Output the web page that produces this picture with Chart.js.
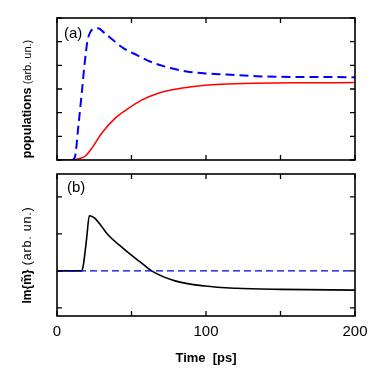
<!DOCTYPE html>
<html>
<head>
<meta charset="utf-8">
<script src="https://cdn.jsdelivr.net/npm/chart.js@4.4.1/dist/chart.umd.min.js"></script>
<style>
  body { margin: 0; background: #fff; }
  #wrap { position: relative; width: 390px; height: 382px; }
  canvas { position: absolute; left: 0; }
  #panelA { top: 0; }
  #panelB { top: 170px; }
</style>
</head>
<body>
<div id="wrap">
  <canvas id="panelA" width="390" height="170"></canvas>
  <canvas id="panelB" width="390" height="212"></canvas>
</div>
<script>
// panel (a): populations
const timeBlue = [0, 10, 12.1, 14.3, 16.6, 18.8, 20.5, 22.5, 25, 27.5, 32, 38, 44, 54, 64, 76, 87, 99, 114, 134, 160, 200];
const popBlue  = [0, 0, 0.14, 1.41, 2.82, 4.22, 5.05, 5.42, 5.55, 5.57, 5.36, 5.05, 4.75, 4.42, 4.12, 3.89, 3.74, 3.66, 3.61, 3.54, 3.51, 3.5];
const timeRed  = [0, 10, 12.1, 15, 18.8, 23.3, 30, 38.9, 47.9, 56.8, 68, 79.2, 90.4, 99.3, 110, 134, 160, 200];
const popRed   = [0, 0, 0.02, 0.06, 0.16, 0.49, 1.13, 1.76, 2.18, 2.53, 2.82, 2.99, 3.1, 3.16, 3.2, 3.24, 3.26, 3.27];

// panel (b): Im{m}
const timeIm = [0, 16.6, 17.7, 19.9, 21.7, 23.5, 25.5, 30, 34.4, 45.6, 56.8, 63.5, 79.2, 99.3, 120, 150, 200];
const valIm  = [0, 0, 0.16, 0.88, 1.49, 1.47, 1.42, 1.2, 0.97, 0.57, 0.21, 0, -0.27, -0.41, -0.47, -0.5, -0.52];
const timeZero = [0, 200];
const valZero  = [0, 0];

const xTicks = [0, 50, 100, 150, 200];
const xTickLabels = [0, 100, 200];
const yTicksA = [0, 1, 2, 3, 4, 5, 6];
const yTicksB = [-1, 0, 1, 2];

const FONT = '"Liberation Sans", Arial, sans-serif';

function pts(xs, ys) {
  return xs.map((x, i) => ({ x: x, y: ys[i] }));
}

// frame + inward ticks on all four sides
function framePlugin(yTicks, extra) {
  return {
    id: 'frame',
    afterDraw(chart) {
      const ctx = chart.ctx;
      const a = chart.chartArea;
      const xs = chart.scales.x, ys = chart.scales.y;
      ctx.save();
      ctx.strokeStyle = '#000';
      ctx.lineWidth = 1.6;
      ctx.strokeRect(a.left, a.top, a.right - a.left, a.bottom - a.top);
      ctx.lineWidth = 1.3;
      ctx.beginPath();
      xTicks.forEach(t => {
        const px = xs.getPixelForValue(t);
        ctx.moveTo(px, a.bottom); ctx.lineTo(px, a.bottom - 5);
        ctx.moveTo(px, a.top); ctx.lineTo(px, a.top + 5);
      });
      yTicks.forEach(t => {
        const py = ys.getPixelForValue(t);
        ctx.moveTo(a.left, py); ctx.lineTo(a.left + 5, py);
        ctx.moveTo(a.right, py); ctx.lineTo(a.right - 5, py);
      });
      ctx.stroke();
      ctx.restore();
      extra(chart, ctx, a, xs, ys);
    }
  };
}

// rotated y title: bold part + normal part
function yTitle(ctx, cx, cy, boldTxt, boldFont, normTxt, normFont, spacing) {
  ctx.save();
  ctx.translate(cx, cy);
  ctx.rotate(-Math.PI / 2);
  ctx.fillStyle = '#000';
  ctx.textBaseline = 'middle';
  ctx.font = boldFont;
  ctx.letterSpacing = '0px';
  const w1 = ctx.measureText(boldTxt).width;
  ctx.font = normFont;
  ctx.letterSpacing = spacing;
  const w2 = ctx.measureText(normTxt).width;
  const x = -(w1 + w2) / 2;
  ctx.font = boldFont;
  ctx.letterSpacing = '0px';
  ctx.fillText(boldTxt, x, 0);
  ctx.font = normFont;
  ctx.letterSpacing = spacing;
  ctx.fillText(normTxt, x + w1, 0);
  ctx.restore();
}

const baseOpts = (pad, ymin, ymax) => ({
  responsive: false,
  animation: false,
  layout: { padding: pad },
  plugins: { legend: { display: false }, tooltip: { enabled: false } },
  elements: { point: { radius: 0 } },
  scales: {
    x: { type: 'linear', min: 0, max: 200, display: false },
    y: { type: 'linear', min: ymin, max: ymax, display: false }
  }
});

new Chart(document.getElementById('panelA'), {
  type: 'line',
  data: {
    datasets: [
      { data: pts(timeBlue, popBlue), borderColor: '#0000ff', borderWidth: 2, borderDash: [9, 5], cubicInterpolationMode: 'monotone' },
      { data: pts(timeRed, popRed), borderColor: '#ff0000', borderWidth: 1.5, cubicInterpolationMode: 'monotone' }
    ]
  },
  options: baseOpts({ left: 57, right: 35, top: 18, bottom: 10 }, 0, 6),
  plugins: [framePlugin(yTicksA, (chart, ctx, a) => {
    ctx.save();
    ctx.fillStyle = '#000';
    ctx.font = '15px ' + FONT;
    ctx.textBaseline = 'middle';
    ctx.fillText('(a)', 64, 34);
    ctx.restore();
    yTitle(ctx, 28, 99, 'populations', 'bold 12.5px ' + FONT, ' (arb. un.)', '11px ' + FONT, '0px');
  })]
});

new Chart(document.getElementById('panelB'), {
  type: 'line',
  data: {
    datasets: [
      { data: pts(timeZero, valZero), borderColor: '#0000e0', borderWidth: 1.4, borderDash: [7, 4] },
      { data: pts(timeIm, valIm), borderColor: '#000', borderWidth: 1.6, cubicInterpolationMode: 'monotone' }
    ]
  },
  options: baseOpts({ left: 57, right: 35, top: 4, bottom: 66 }, -1.22, 2.62),
  plugins: [framePlugin(yTicksB, (chart, ctx, a, xs) => {
    ctx.save();
    ctx.fillStyle = '#000';
    ctx.font = '15px ' + FONT;
    ctx.textBaseline = 'middle';
    ctx.fillText('(b)', 67, 18);
    ctx.textAlign = 'center';
    xTickLabels.forEach(t => ctx.fillText(String(t), xs.getPixelForValue(t), 162));
    ctx.font = 'bold 13px ' + FONT;
    ctx.fillText('Time  [ps]', xs.getPixelForValue(100), 188);
    ctx.restore();
    yTitle(ctx, 28, 85, 'Im{m\u0303}', 'bold 12px ' + FONT, ' (arb. un.)', '12.5px ' + FONT, '0.8px');
  })]
});
</script>
</body>
</html>
